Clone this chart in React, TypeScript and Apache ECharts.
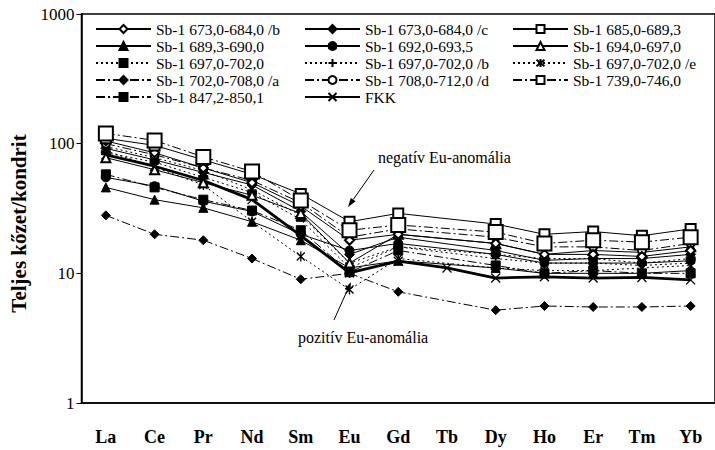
import React, { useEffect, useRef } from "react";
import * as echarts from "echarts";

const categories = ["La", "Ce", "Pr", "Nd", "Sm", "Eu", "Gd", "Tb", "Dy", "Ho", "Er", "Tm", "Yb"];
const yTicks = [1, 10, 100, 1000];

const names = [
  "Sb-1 673,0-684,0 /b",
  "Sb-1 673,0-684,0 /c",
  "Sb-1 685,0-689,3",
  "Sb-1 689,3-690,0",
  "Sb-1 692,0-693,5",
  "Sb-1 694,0-697,0",
  "Sb-1 697,0-702,0",
  "Sb-1 697,0-702,0 /b",
  "Sb-1 697,0-702,0 /e",
  "Sb-1 702,0-708,0 /a",
  "Sb-1 708,0-712,0 /d",
  "Sb-1 739,0-746,0",
  "Sb-1 847,2-850,1",
  "FKK",
];

const s673b = [105, 85, 65, 50, 33, 18, 20, null, 17, 14, 14, 13.5, 15];
const s673c = [92, 75, 60, 48, 30, 14, 19, null, 15, 12.6, 13, 13, 14];
const s685 = [110, 97, 75, 58, 41, 25, 29, null, 24, 20, 21, 19.5, 22];
const s689 = [46, 37, 32, 25, 18, 11, 12.5, null, 11, 10, 10, 10, 10.5];
const s692 = [55, 47, 36, 30, 20, 15, 17, null, 14, 12, 12, 12, 12.5];
const s694 = [78, 63, 50, 40, 29, 12, 20, null, 17, 14, 15, 14.5, 16];
const s697 = [85, 72, 55, 42, 26, 11, 16, null, 14, 13, 13, 12, 13];
const s697b = [95, 78, 62, 44, 28, 12, 16, null, 13, 12, 12, 11.5, 12];
const s697e = [88, 66, 48, 25, 13.5, 7.5, 13, null, 11, 10.5, 10.5, 11, 11.5];
const s702a = [28, 20, 18, 13, 9, 10, 7.2, null, 5.2, 5.6, 5.5, 5.5, 5.6];
const s708d = [100, 82, 65, 52, 35, 19, 22, null, 19, 16, 16, 15, 17];
const s739 = [120, 106, 79, 61, 36.5, 21.5, 23.6, null, 20.8, 17, 18, 17.4, 19];
const s847 = [58, 46, 37, 30.5, 21.5, 10.2, 15, null, 11.5, 10, 10.5, 10, 10];
const fkk = [82, 67, 52, 37, 19.5, 10.1, 12.4, 11, 9.2, 9.4, 9.2, 9.3, 8.9];

const FONT = "'Liberation Serif', 'Times New Roman', serif";
const SOLID = "solid";
const DOT = [2, 3];
const DASHDOT = [9, 3, 2, 3];

const PLUS = "path://M0,5L10,5M5,0L5,10";
const ASTER = "path://M1,1L9,9M9,1L1,9M5,0L5,10";
const CROSS = "path://M0,0L10,10M10,0L0,10";
const BAR = "path://M0,0L10,0L10,4L0,4Z";

function mk(name: string, data: (number | null)[], type: any, symbol: string, size: any, width = 1, stroked = false) {
  return {
    name,
    type: "line",
    data,
    connectNulls: true,
    symbol,
    symbolSize: size,
    symbolKeepAspect: true,
    lineStyle: { color: "#000", width, type },
    itemStyle: stroked
      ? { color: "#000", borderColor: "#000", borderWidth: 1.3 }
      : { color: "#000", borderColor: "#000", borderWidth: 1 },
    emphasis: { disabled: true },
  };
}

export default function App() {
  const ref = useRef<HTMLDivElement>(null);
  useEffect(() => {
    if (!ref.current) return;
    const chart = echarts.init(ref.current, null, { renderer: "svg" });
    const series = [
      mk(names[9], s702a, DASHDOT, "diamond", 9),
      mk(names[3], s689, SOLID, "triangle", 9),
      mk(names[12], s847, DASHDOT, "rect", 9),
      mk(names[4], s692, SOLID, "circle", 9),
      mk(names[8], s697e, DOT, ASTER, 10, 1, true),
      mk(names[6], s697, DOT, BAR, 9),
      mk(names[7], s697b, DOT, PLUS, 9, 1, true),
      mk(names[13], fkk, SOLID, CROSS, 9, 2.8, true),
      mk(names[1], s673c, SOLID, "diamond", 10),
      mk(names[5], s694, SOLID, "emptyTriangle", 9),
      mk(names[10], s708d, DASHDOT, "emptyCircle", 8),
      mk(names[0], s673b, SOLID, "emptyDiamond", 9),
      mk(names[2], s685, SOLID, "emptyRect", 10),
      mk(names[11], s739, DASHDOT, "emptyRect", 14),
    ];
    const colLeft = [95, 304, 512];
    const rowTop = [28, 45, 62, 79, 96];
    const legends = names.map((n, i) => ({
      data: [n],
      left: colLeft[i % 3],
      top: rowTop[Math.floor(i / 3)] - 7,
      itemWidth: 55,
      itemHeight: 10,
      itemGap: 0,
      padding: 0,
      selectedMode: false,
      textStyle: { color: "#000", fontFamily: FONT, fontSize: 15.5, lineHeight: 14 },
    }));
    const arrow = (x1: number, y1: number, x2: number, y2: number) => {
      const dx = x2 - x1, dy = y2 - y1;
      const L = Math.sqrt(dx * dx + dy * dy);
      const ux = dx / L, uy = dy / L;
      const bx = x2 - 9 * ux, by = y2 - 9 * uy;
      const px = -uy * 3, py = ux * 3;
      return [
        { type: "line", shape: { x1, y1, x2: bx, y2: by }, style: { stroke: "#000", lineWidth: 1 } },
        { type: "polygon", shape: { points: [[x2, y2], [bx + px, by + py], [bx - px, by - py]] }, style: { fill: "#000" } },
      ];
    };
    chart.setOption({
      animation: false,
      backgroundColor: "#fff",
      legend: legends,
      grid: { left: 81.5, top: 14, width: 642.6, height: 389, show: true, borderColor: "#000", borderWidth: 1.5, containLabel: false },
      xAxis: {
        type: "category",
        data: categories,
        boundaryGap: true,
        axisLine: { lineStyle: { color: "#000", width: 1.5 } },
        axisTick: { show: false },
        axisLabel: { color: "#000", fontFamily: FONT, fontWeight: "bold", fontSize: 18, margin: 25 },
      },
      yAxis: {
        type: "log",
        logBase: 10,
        min: yTicks[0],
        max: yTicks[yTicks.length - 1],
        name: "Teljes kőzet/kondrit",
        nameLocation: "middle",
        nameGap: 42,
        nameTextStyle: { color: "#000", fontFamily: FONT, fontWeight: "bold", fontSize: 21, padding: [0, 30, 0, 0] },
        axisLine: { show: true, lineStyle: { color: "#000", width: 1.5 } },
        axisTick: { show: true, length: 5, lineStyle: { color: "#000" } },
        minorTick: { show: false },
        splitLine: { show: false },
        axisLabel: { color: "#000", fontFamily: FONT, fontSize: 17, margin: 7, formatter: (v: number) => String(Math.round(v)) },
      },
      series,
      graphic: [
        { type: "text", left: 378, top: 149, style: { text: "negatív Eu-anomália", font: `16px ${FONT}`, fill: "#000" } },
        { type: "text", left: 298, top: 329, style: { text: "pozitív Eu-anomália", font: `16px ${FONT}`, fill: "#000" } },
        ...arrow(374, 170, 348, 207),
        ...arrow(334, 320, 351, 282),
      ],
    });
    return () => chart.dispose();
  }, []);
  return <div ref={ref} style={{ position: "fixed", left: 0, top: 0, width: 715, height: 450 }} />;
}
